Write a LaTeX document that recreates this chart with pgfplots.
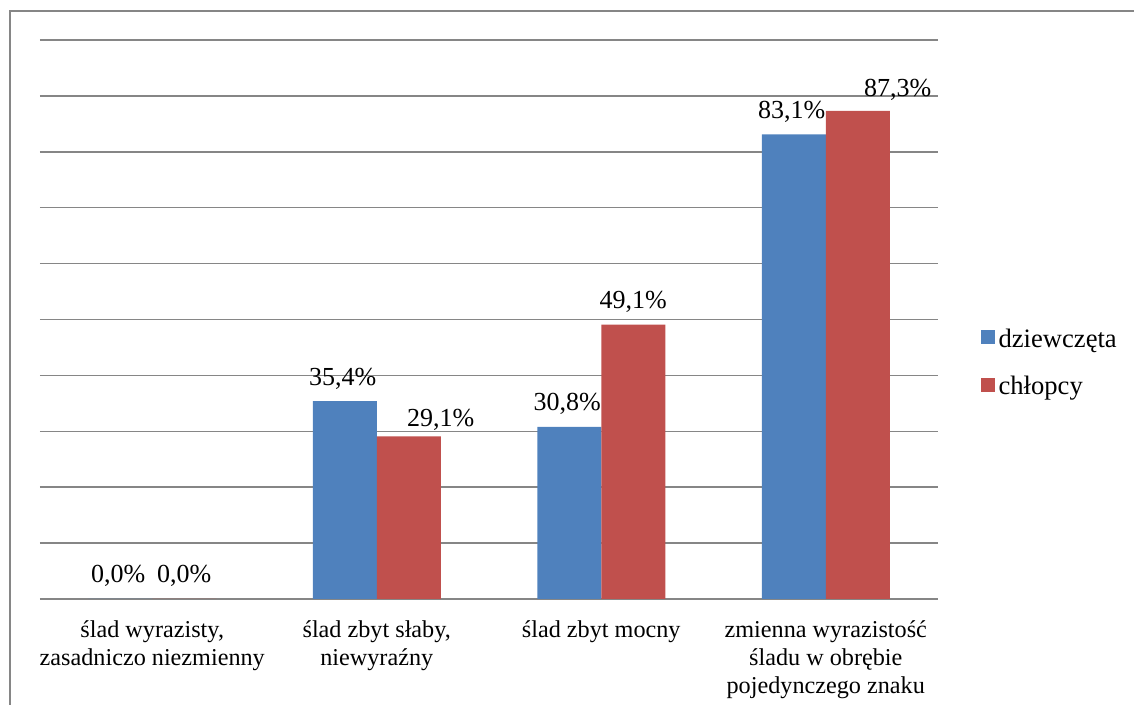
\documentclass[border=0pt]{standalone}
\usepackage{fontspec}
\setmainfont{Liberation Serif}
\usepackage{pgfplots}
\usepackage{pgfplotstable}
\pgfplotsset{compat=1.18}
\definecolor{cblue}{RGB}{79,129,189}
\definecolor{cred}{RGB}{192,80,77}
\definecolor{cgrid}{RGB}{134,134,134}
\newcommand{\lbl}{\fontsize{13}{14}\selectfont}
\newcommand{\tlbl}{\fontsize{12.1}{14}\selectfont}
\newcommand{\leg}{\fontsize{13.3}{14}\selectfont}
\pgfplotstableread{
x y dx dy
0 0 -1 0
1 35.4 -1 0
2 30.8 -1 0
3 83.1 -1 0
}\girls
\pgfplotstableread{
x y dx dy
0 0 0 0
1 29.1 16 -3
2 49.1 0 0
3 87.3 20 -1
}\boys
\begin{document}
\begin{tikzpicture}
\useasboundingbox (0pt,0pt) rectangle (567pt,352.5pt);
\draw[cgrid, line width=1pt] (5pt,0pt) -- (5pt,347pt) -- (567pt,347pt);
\begin{axis}[
  at={(20pt,53pt)}, anchor=south west,
  scale only axis, width=449pt, height=279.5pt,
  ybar=0pt, bar width=32pt,
  xmin=-0.5, xmax=3.5, ymin=0, ymax=100,
  axis line style={draw=none},
  xtick={0,1,2,3},
  xticklabels={{ślad wyrazisty,\\zasadniczo niezmienny},{ślad zbyt słaby,\\niewyraźny},{ślad zbyt mocny},{zmienna wyrazistość\\śladu w obrębie\\pojedynczego znaku}},
  xticklabel style={font=\tlbl, align=center, anchor=north, yshift=-3pt},
  major x tick style={draw=none},
  xtick pos=bottom,
  extra x ticks={-0.5,0.5,1.5,2.5,3.5},
  extra x tick labels={},
  extra x tick style={major tick length=4pt, tick align=outside, grid=none,
     tick style={draw=cgrid, line width=0.75pt}},
  ytick={0,10,...,100},
  yticklabels={},
  ytick style={draw=none},
  ymajorgrids,
  grid style={cgrid, line width=0.75pt},
  nodes near coords={\pgfmathprintnumber[fixed,fixed zerofill,precision=1,use comma,assume math mode=true]{\pgfplotspointmeta}\%},
  legend style={at={(1.047,0.422)}, anchor=west, draw=none, font=\leg, row sep=9pt, inner sep=0pt},
  legend cell align=left,
  legend image code/.code={\fill[#1] (0pt,-2.5pt) rectangle (7pt,4.5pt);},
]
\addplot[fill=cblue, draw=none,
  visualization depends on={\thisrow{dx} \as \dx},
  visualization depends on={\thisrow{dy} \as \dy},
  every node near coord/.append style={font=\lbl, black, xshift=\dx pt, yshift=2.5pt+\dy pt}]
  table[x=x, y=y] {\girls};
\addplot[fill=cred, draw=none,
  visualization depends on={\thisrow{dx} \as \dx},
  visualization depends on={\thisrow{dy} \as \dy},
  every node near coord/.append style={font=\lbl, black, xshift=\dx pt, yshift=2.5pt+\dy pt}]
  table[x=x, y=y] {\boys};
\legend{dziewczęta, chłopcy}
\end{axis}
\end{tikzpicture}
\end{document}
